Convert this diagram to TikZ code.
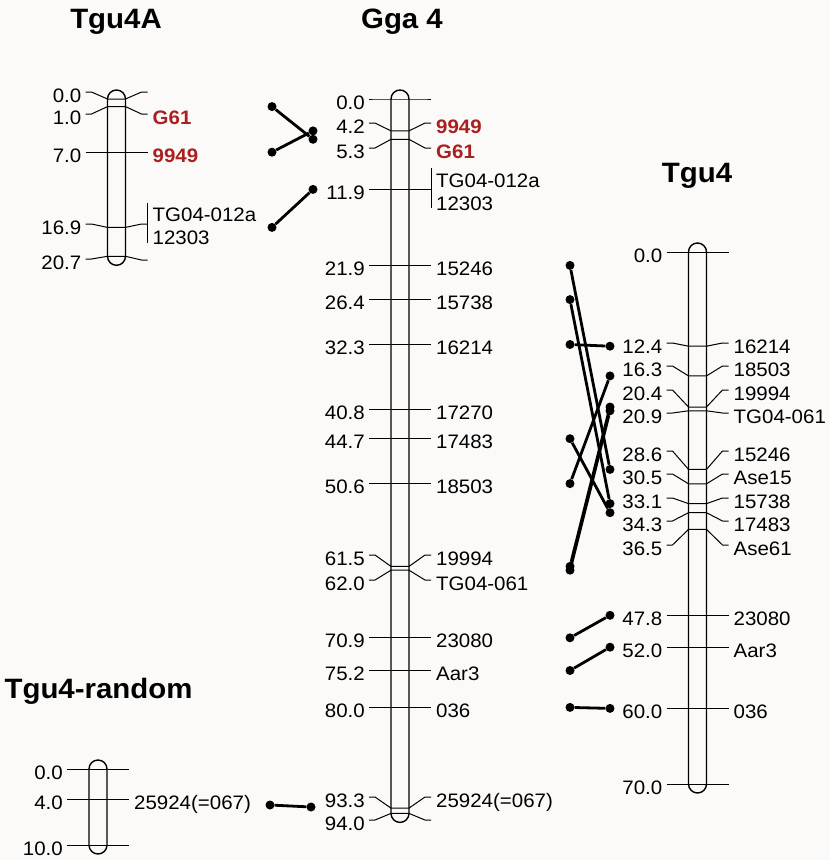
\documentclass[tikz,border=0pt]{standalone}
\usepackage{fontspec}
\setmainfont[FakeStretch=1.05]{Liberation Sans}
\definecolor{mapred}{RGB}{170,32,32}
\definecolor{paper}{RGB}{251,250,249}
\tikzstyle{chrom} = [line width=1.4pt, rounded corners=9pt]
\tikzstyle{tickline} = [line width=1pt]
\tikzstyle{poslbl} = [anchor=base east, inner sep=0pt, font=\fontsize{19.5}{22}\selectfont]
\tikzstyle{locuslbl} = [anchor=base west, inner sep=0pt, font=\fontsize{19.5}{22}\selectfont]
\tikzstyle{title} = [anchor=base, inner sep=0pt, font=\fontsize{28}{32}\selectfont\bfseries]
\tikzstyle{dot} = [circle, fill=black, inner sep=0pt, minimum size=9pt]
\tikzstyle{link} = [line width=2.8pt]
\newcommand{\redtxt}[1]{{\color{mapred}\bfseries #1}}
% tick: centre x, bar y, left end y, right end y
\newcommand{\maptick}[4]{\draw[tickline] (#1-31,#3) -- (#1-25,#3) -- (#1-9,#2) -- (#1+9,#2) -- (#1+25,#4) -- (#1+31,#4);}
% marker: name, centre x, bar y, left end y, right end y, position, locus
\newcommand{\marker}[7]{%
  \maptick{#2}{#3}{#4}{#5}
  \node[poslbl] (#1p) at (#2-35,#4+10) {#6};
  \node[locuslbl] (#1n) at (#2+36,#5+10) {#7};
}
\newcommand{\unnamed}[6]{%
  \maptick{#2}{#3}{#4}{#5}
  \node[poslbl] (#1p) at (#2-35,#4+10) {#6};
}

\begin{document}
\begin{tikzpicture}[x=1pt, y=-1pt]
\fill[paper] (0,0) rectangle (830,860);
\useasboundingbox (0,0) rectangle (830,860);

%% TITLES

\node (tgu4a) [title] at (116,28) {Tgu4A};
\node (gga4) [title] at (402,28) {Gga 4};
\node (tgu4) [title] at (697,182) {Tgu4};
\node (tgu4r) [title] at (98.5,698) {Tgu4-random};

%% CHROMOSOMES

\draw[chrom] (107.5,90) rectangle (125.5,265.3);
\draw[chrom] (391,90) rectangle (409,822.4);
\draw[chrom] (688.5,243) rectangle (706.5,793);
\draw[chrom] (89,760) rectangle (107,854);

%% Tgu4A
\unnamed{a0}{116.5}{99}{92}{92}{0.0}
\marker{a1}{116.5}{106.6}{114}{114}{1.0}{\redtxt{G61}}
\marker{a2}{116.5}{152.2}{152.2}{152.2}{7.0}{\redtxt{9949}}
\unnamed{a3}{116.5}{227.4}{224}{224}{16.9}
\draw[tickline] (147.5,203) -- (147.5,243);
\node (a3n) [locuslbl] at (152.5,221.5) {TG04-012a};
\node (a3m) [locuslbl] at (152.5,244.5) {12303};
\unnamed{a4}{116.5}{256.3}{259}{260}{20.7}

%% Gga 4
\unnamed{g0}{400}{99}{99}{99}{0.0}
\marker{g1}{400}{130.9}{123}{123}{4.2}{\redtxt{9949}}
\marker{g2}{400}{139.3}{148}{148}{5.3}{\redtxt{G61}}
\unnamed{g3}{400}{189.4}{189.4}{189.4}{11.9}
\draw[tickline] (431,168) -- (431,208);
\node (g3n) [locuslbl] at (436,187) {TG04-012a};
\node (g3m) [locuslbl] at (436,210) {12303};
\marker{g4}{400}{265.4}{265.4}{265.4}{21.9}{15246}
\marker{g5}{400}{299.6}{299.6}{299.6}{26.4}{15738}
\marker{g6}{400}{344.5}{344.5}{344.5}{32.3}{16214}
\marker{g7}{400}{409.1}{409.1}{409.1}{40.8}{17270}
\marker{g8}{400}{438.7}{438.7}{438.7}{44.7}{17483}
\marker{g9}{400}{483.6}{483.6}{483.6}{50.6}{18503}
\marker{g10}{400}{566.4}{555}{555}{61.5}{19994}
\marker{g11}{400}{570.2}{580}{580}{62.0}{TG04-061}
\marker{g12}{400}{637.8}{637.8}{637.8}{70.9}{23080}
\marker{g13}{400}{670.5}{670.5}{670.5}{75.2}{Aar3}
\marker{g14}{400}{707.4}{707.4}{707.4}{80.0}{036}
\marker{g15}{400}{808.1}{797}{797}{93.3}{25924(=067)}
\unnamed{g16}{400}{813.4}{820}{820}{94.0}

%% Tgu4
\unnamed{t0}{697.5}{252.4}{252.4}{252.4}{0.0}
\marker{t1}{697.5}{346.2}{343}{343}{12.4}{16214}
\marker{t2}{697.5}{375.9}{366}{366}{16.3}{18503}
\marker{t3}{697.5}{407}{390}{390}{20.4}{19994}
\marker{t4}{697.5}{410.8}{413}{413}{20.9}{TG04-061}
\marker{t5}{697.5}{469.4}{451}{451}{28.6}{15246}
\marker{t6}{697.5}{483.8}{474}{474}{30.5}{Ase15}
\marker{t7}{697.5}{503.6}{498}{498}{33.1}{15738}
\marker{t8}{697.5}{512.7}{521}{521}{34.3}{17483}
\marker{t9}{697.5}{529.4}{545}{545}{36.5}{Ase61}
\marker{t10}{697.5}{615.3}{615.3}{615.3}{47.8}{23080}
\marker{t11}{697.5}{647.2}{647.2}{647.2}{52.0}{Aar3}
\marker{t12}{697.5}{708.4}{708.4}{708.4}{60.0}{036}
\unnamed{t13}{697.5}{784.4}{784.4}{784.4}{70.0}

%% Tgu4-random
\unnamed{r0}{98}{769.4}{769.4}{769.4}{0.0}
\marker{r1}{98}{799.4}{799.4}{799.4}{4.0}{25924(=067)}
\unnamed{r2}{98}{845.4}{845.4}{845.4}{10.0}

%% LINKS

\node (la1) [dot] at (272,106.6) {};
\node (ra1) [dot] at (313,139.3) {};
\node (la2) [dot] at (272,152.2) {};
\node (ra2) [dot] at (313,130.9) {};
\node (la3) [dot] at (272,227.4) {};
\node (ra3) [dot] at (313,189.4) {};
\node (lr1) [dot] at (270,805) {};
\node (rr1) [dot] at (311,807) {};

\node (lt1) [dot] at (570,265.4) {};
\node (rt1) [dot] at (610,469.4) {};
\node (lt2) [dot] at (570,299.6) {};
\node (rt2) [dot] at (610,503.6) {};
\node (lt3) [dot] at (570,344.5) {};
\node (rt3) [dot] at (610,346.2) {};
\node (lt4) [dot] at (570,438.7) {};
\node (rt4) [dot] at (610,512.7) {};
\node (lt5) [dot] at (570,483.6) {};
\node (rt5) [dot] at (610,375.9) {};
\node (lt6) [dot] at (570,566.4) {};
\node (rt6) [dot] at (610,407) {};
\node (lt7) [dot] at (570,570.2) {};
\node (rt7) [dot] at (610,410.8) {};
\node (lt8) [dot] at (570,637.8) {};
\node (rt8) [dot] at (610,615.3) {};
\node (lt9) [dot] at (570,670.5) {};
\node (rt9) [dot] at (610,647.2) {};
\node (lt10) [dot] at (570,707.4) {};
\node (rt10) [dot] at (610,708.4) {};

\foreach \i in {1,2,3} \draw[link] (la\i) -- (ra\i);
\draw[link] (lr1) -- (rr1);
\foreach \i in {1,...,10} \draw[link] (lt\i) -- (rt\i);

\end{tikzpicture}
\end{document}
